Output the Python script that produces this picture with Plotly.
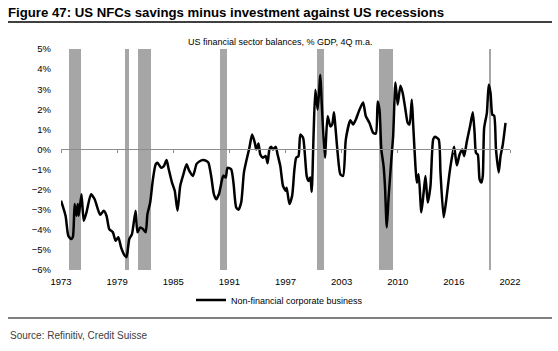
import plotly.graph_objects as go

# ---- data ----
years = [1973.0, 1973.5, 1973.8, 1974.1, 1974.3, 1974.5, 1974.7, 1974.85, 1974.95, 1975.25,
         1975.5, 1975.8, 1976.3, 1976.7, 1977.3, 1977.7, 1978.0, 1978.3, 1978.7, 1979.0,
         1979.3, 1979.6, 1980.0, 1980.2, 1980.5, 1980.8, 1981.2, 1981.4, 1981.7, 1982.0,
         1982.3, 1982.5, 1982.8, 1983.1, 1983.4, 1983.6, 1984.0, 1984.3, 1984.6, 1984.8,
         1985.2, 1985.5, 1985.8, 1986.1, 1986.4, 1986.8, 1987.1, 1987.5, 1987.9, 1988.2,
         1988.6, 1989.0, 1989.2, 1989.5, 1989.8, 1990.05, 1990.35, 1990.7, 1990.85, 1991.1,
         1991.3, 1991.7, 1991.95, 1992.25, 1992.5, 1992.8, 1993.1, 1993.4, 1993.7, 1994.0,
         1994.3, 1994.45, 1994.7, 1994.9, 1995.2, 1995.5, 1995.7, 1995.9, 1996.1, 1996.3,
         1996.6, 1996.8, 1997.1, 1997.4, 1997.7, 1997.8, 1998.1, 1998.4, 1998.65, 1998.85,
         1999.1, 1999.3, 1999.6, 1999.8, 2000.0, 2000.2, 2000.4, 2000.55, 2000.75, 2000.95,
         2001.2, 2001.5, 2001.65, 2002.0, 2002.3, 2002.6, 2002.8, 2003.0, 2003.15, 2003.4,
         2003.7, 2004.0, 2004.3, 2004.8, 2005.1, 2005.4, 2005.8, 2006.2, 2006.5, 2006.9,
         2007.3, 2007.6, 2007.8, 2008.0, 2008.2, 2008.45, 2008.6, 2008.8, 2009.0, 2009.3,
         2009.5, 2009.75, 2010.0, 2010.3, 2010.55, 2010.85, 2011.1, 2011.3, 2011.55, 2011.7,
         2011.95, 2012.1, 2012.3, 2012.6, 2012.85, 2013.05, 2013.3, 2013.6, 2013.9, 2014.1,
         2014.5, 2014.7, 2015.05, 2015.3, 2015.7, 2016.05, 2016.2, 2016.5, 2016.8, 2017.1,
         2017.3, 2017.6, 2017.95, 2018.25, 2018.45, 2018.6, 2018.8, 2019.0, 2019.2, 2019.35,
         2019.5, 2019.8, 2020.0, 2020.2, 2020.4, 2020.6, 2020.8, 2021.1, 2021.3, 2021.55,
         2021.85]
nfc_balance = [-2.55, -3.3, -4.29, -4.46, -4.36, -2.72, -3.3, -2.72, -3.3, -2.23,
               -3.55, -3.13, -2.23, -2.48, -3.25, -3.05, -3.3, -3.96, -4.12, -4.54,
               -4.37, -4.87, -5.28, -5.36, -4.46, -4.21, -3.05, -4.12, -3.88, -3.96,
               -4.12, -3.22, -2.64, -1.49, -0.74, -0.66, -0.91, -0.83, -0.53, -0.91,
               -1.65, -2.06, -3.05, -1.82, -1.32, -0.74, -1.07, -1.32, -0.72, -0.6,
               -0.53, -0.58, -0.66, -1.32, -2.23, -2.48, -2.23, -1.49, -1.29, -1.4,
               -0.91, -0.99, -1.65, -2.89, -3.0, -2.64, -1.15, -0.5, 0.08, 0.74,
               0.33, 0.0, 0.3, -0.25, -0.41, -0.33, -0.69, 0.0, 0.13, 0.0,
               0.13, -0.25, -0.83, -1.82, -2.06, -1.9, -2.72, -2.31, -0.99, -0.41,
               -0.33, 0.74, 0.58, -0.25, -1.32, -1.57, -1.4, -2.11, 0.66, 2.97,
               1.98, 3.71, 2.31, -0.41, 1.65, 1.15, 1.24, 1.85, 1.15, -0.17,
               -1.24, -1.32, 0.5, 1.45, 1.24, 1.49, 1.98, 2.34, 1.65, 1.32,
               0.83, 0.79, 2.39, 1.98, 0.0, -0.83, -1.82, -3.88, -2.39, -0.5,
               0.66, 3.33, 2.23, 3.17, 2.81, 1.98, 1.32, 1.24, 2.48, 1.24,
               -0.83, -1.65, -1.24, -3.13, -2.14, -1.32, -2.64, -1.82, 0.5, 0.63,
               0.5, -1.15, -3.38, -2.64, -1.15, -0.17, 0.13, -0.79, -0.25, 0.0,
               -0.33, 0.41, 1.15, 1.85, 0.83, -0.17, -0.25, -1.49, -1.65, -1.32,
               1.07, 1.82, 3.22, 2.81, 1.73, 1.68, 0.0, -1.15, -0.33, 0.25,
               1.32]

recession_start = [1973.875, 1980.0, 1981.5, 1990.5, 2001.17, 2007.92, 2020.05]
recession_end = [1975.25, 1980.5, 1982.875, 1991.25, 2001.9, 2009.5, 2020.3]

tick_labels = ["1973", "1979", "1985", "1991", "1997", "2003", "2010", "2016", "2022"]

# ---- layout constants ----
W, H = 558, 351
ML, MR, MT, MB = 61, 48, 49, 81
X0, X1 = 1973.0, 2022.34
Y0, Y1 = -6, 5
PW = W - ML - MR
PH = H - MT - MB

def px_x(px):
    return (px - ML) / PW

def px_y(py):
    return (H - MB - py) / PH

step = (X1 - X0) / (len(tick_labels) - 1)
tick_vals = [X0 + i * step for i in range(len(tick_labels))]

FONT = "Liberation Sans, Arial, sans-serif"

fig = go.Figure()

# recession bars
fig.add_trace(go.Bar(
    x=[(s + e) / 2 for s, e in zip(recession_start, recession_end)],
    y=[Y1 - Y0] * len(recession_start),
    base=[Y0] * len(recession_start),
    width=[e - s for s, e in zip(recession_start, recession_end)],
    marker=dict(color="#a6a6a6", line=dict(width=0)),
    showlegend=False, hoverinfo="skip", xaxis="x", yaxis="y",
))

# NFC line
fig.add_trace(go.Scatter(
    x=years, y=nfc_balance, mode="lines",
    name="Non-financial corporate business",
    line=dict(color="black", width=2.5, shape="spline", smoothing=0.6),
    xaxis="x2", yaxis="y",
))

fig.update_layout(
    width=W, height=H,
    margin=dict(l=ML, r=MR, t=MT, b=MB, pad=0),
    paper_bgcolor="white", plot_bgcolor="white",
    font=dict(family=FONT, size=9, color="#000000"),
    bargap=0,
    xaxis=dict(range=[X0, X1], tickvals=tick_vals, ticktext=tick_labels,
               showgrid=False, zeroline=False, showline=False, ticks="",
               tickfont=dict(size=9.5), ticklabelstandoff=4),
    xaxis2=dict(range=[X0, X1], overlaying="x", anchor="free",
                position=(0 - Y0) / (Y1 - Y0), side="bottom",
                tickvals=tick_vals, showticklabels=False,
                showgrid=False, zeroline=False,
                showline=True, linecolor="#8c8c8c", linewidth=1,
                ticks="outside", ticklen=3, tickcolor="#8c8c8c", tickwidth=1),
    yaxis=dict(range=[Y0, Y1], dtick=1, tick0=0, ticksuffix="%",
               showgrid=False, zeroline=False, showline=False, ticks="",
               tickfont=dict(size=9.5), ticklabelstandoff=9),
    showlegend=True,
    legend=dict(orientation="h", x=px_x(191), xanchor="left",
                y=px_y(300), yanchor="middle",
                font=dict(size=9), bgcolor="rgba(0,0,0,0)",
                itemwidth=30, tracegroupgap=0),
    title=dict(text="<b>Figure 47: US NFCs savings minus investment against US recessions</b>",
               x=8 / W, xref="container", xanchor="left",
               y=1 - 12 / H, yref="container", yanchor="middle",
               font=dict(family=FONT, size=13.2, color="#000000")),
    shapes=[
        dict(type="line", xref="paper", yref="paper",
             x0=px_x(8), x1=px_x(552), y0=px_y(22), y1=px_y(22),
             line=dict(color="black", width=1.5)),
        dict(type="line", xref="paper", yref="paper",
             x0=px_x(8), x1=px_x(552), y0=px_y(318), y1=px_y(318),
             line=dict(color="black", width=1)),
    ],
    annotations=[
        dict(text="US financial sector balances, % GDP, 4Q m.a.",
             xref="paper", yref="paper", x=px_x(280), y=px_y(42),
             xanchor="center", yanchor="middle", showarrow=False,
             font=dict(size=9, color="#000000")),
        dict(text="Source: Refinitiv, Credit Suisse",
             xref="paper", yref="paper", x=px_x(8), y=px_y(335),
             xanchor="left", yanchor="middle", showarrow=False,
             font=dict(size=10, color="#404040")),
    ],
)

fig.write_html("out.html")
